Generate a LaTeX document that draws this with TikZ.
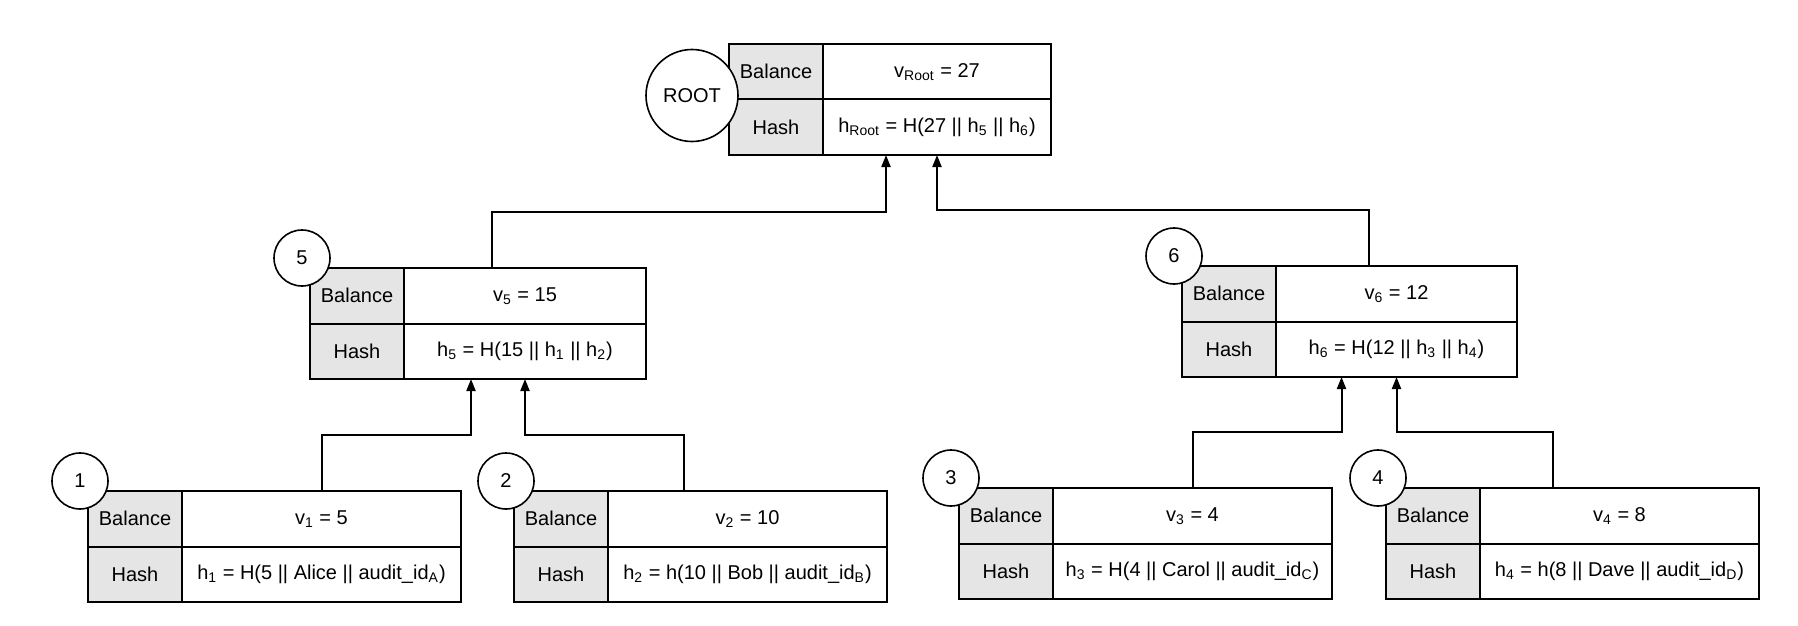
\documentclass[tikz,border=0pt]{standalone}
\usepackage{fontspec}
\setmainfont{Liberation Sans}
\usetikzlibrary{positioning,arrows.meta}
\newcommand{\lo}[1]{\textsubscript{#1}}

\begin{document}
\begin{tikzpicture}[x=0.5pt, y=-0.5pt,
  cell/.style = {draw, line width=1pt, minimum height=27.75pt, inner sep=0pt, outer sep=0pt},
  lbl/.style = {cell, fill=gray!20, minimum width=47pt},
  val/.style = {cell, minimum width=#1}, val/.default = 139.5pt,
  tag/.style = {circle, draw, fill=white, line width=0.8pt, minimum size=#1, inner sep=0pt}, tag/.default = 28pt,
  link/.style = {-{Triangle[length=6pt,width=4.5pt]}, line width=1pt},
  elbow/.style = {to path={-- ++(0,28pt) -| (\tikztotarget)}}]

\useasboundingbox (0,0) rectangle (1798,626);

% Root
\node[lbl, anchor=north west] (bR) at (729,44) {Balance};
\node[val=114pt, right=0pt of bR] (bRv) {v\lo{Root} = 27};
\node[lbl, below=0pt of bR] (hR) {Hash};
\node[val=114pt, right=0pt of hR] (hRv) {h\lo{Root} = H(27 || h\lo{5} || h\lo{6})};
\node[tag=46pt] (root) at ([xshift=-18.5pt,yshift=2pt]bR.south west) {ROOT};

% Node 5
\node[lbl, anchor=north west] (b5) at (310,268) {Balance};
\node[val=121pt, right=0pt of b5] (b5v) {v\lo{5} = 15};
\node[lbl, below=0pt of b5] (h5) {Hash};
\node[val=121pt, right=0pt of h5] (h5v) {h\lo{5} = H(15 || h\lo{1} || h\lo{2})};
\node[tag] (n5) at ([xshift=-4pt,yshift=5pt]b5.north west) {5};

% Node 6
\node[lbl, anchor=north west] (b6) at (1182,266) {Balance};
\node[val=120.5pt, right=0pt of b6] (b6v) {v\lo{6} = 12};
\node[lbl, below=0pt of b6] (h6) {Hash};
\node[val=120.5pt, right=0pt of h6] (h6v) {h\lo{6} = H(12 || h\lo{3} || h\lo{4})};
\node[tag] (n6) at ([xshift=-4pt,yshift=5pt]b6.north west) {6};

% Leaves
\node[lbl, anchor=north west] (b1) at (88,491) {Balance};
\node[val, right=0pt of b1] (b1v) {v\lo{1} = 5};
\node[lbl, below=0pt of b1] (h1) {Hash};
\node[val, right=0pt of h1] (h1v) {h\lo{1} = H(5 || Alice || audit\_id\lo{A})};
\node[tag] (n1) at ([xshift=-4pt,yshift=5pt]b1.north west) {1};

\node[lbl, anchor=north west] (b2) at (514,491) {Balance};
\node[val, right=0pt of b2] (b2v) {v\lo{2} = 10};
\node[lbl, below=0pt of b2] (h2) {Hash};
\node[val, right=0pt of h2] (h2v) {h\lo{2} = h(10 || Bob || audit\_id\lo{B})};
\node[tag] (n2) at ([xshift=-4pt,yshift=5pt]b2.north west) {2};

\node[lbl, anchor=north west] (b3) at (959,488) {Balance};
\node[val, right=0pt of b3] (b3v) {v\lo{3} = 4};
\node[lbl, below=0pt of b3] (h3) {Hash};
\node[val, right=0pt of h3] (h3v) {h\lo{3} = H(4 || Carol || audit\_id\lo{C})};
\node[tag] (n3) at ([xshift=-4pt,yshift=5pt]b3.north west) {3};

\node[lbl, anchor=north west] (b4) at (1386,488) {Balance};
\node[val, right=0pt of b4] (b4v) {v\lo{4} = 8};
\node[lbl, below=0pt of b4] (h4) {Hash};
\node[val, right=0pt of h4] (h4v) {h\lo{4} = h(8 || Dave || audit\_id\lo{D})};
\node[tag] (n4) at ([xshift=-4pt,yshift=5pt]b4.north west) {4};

% Links
\draw[link] ([xshift=-16.5pt]b5v.north) to[elbow] ([xshift=-25.5pt]hRv.south);
\draw[link] ([xshift=-14pt]b6v.north) to[elbow] (hRv.south);
\draw[link] (b1v.north) to[elbow] ([xshift=-27pt]h5v.south);
\draw[link] ([xshift=-32pt]b2v.north) to[elbow] (h5v.south);
\draw[link] (b3v.north) to[elbow] ([xshift=-27.5pt]h6v.south);
\draw[link] ([xshift=-33.5pt]b4v.north) to[elbow] (h6v.south);

\end{tikzpicture}
\end{document}
